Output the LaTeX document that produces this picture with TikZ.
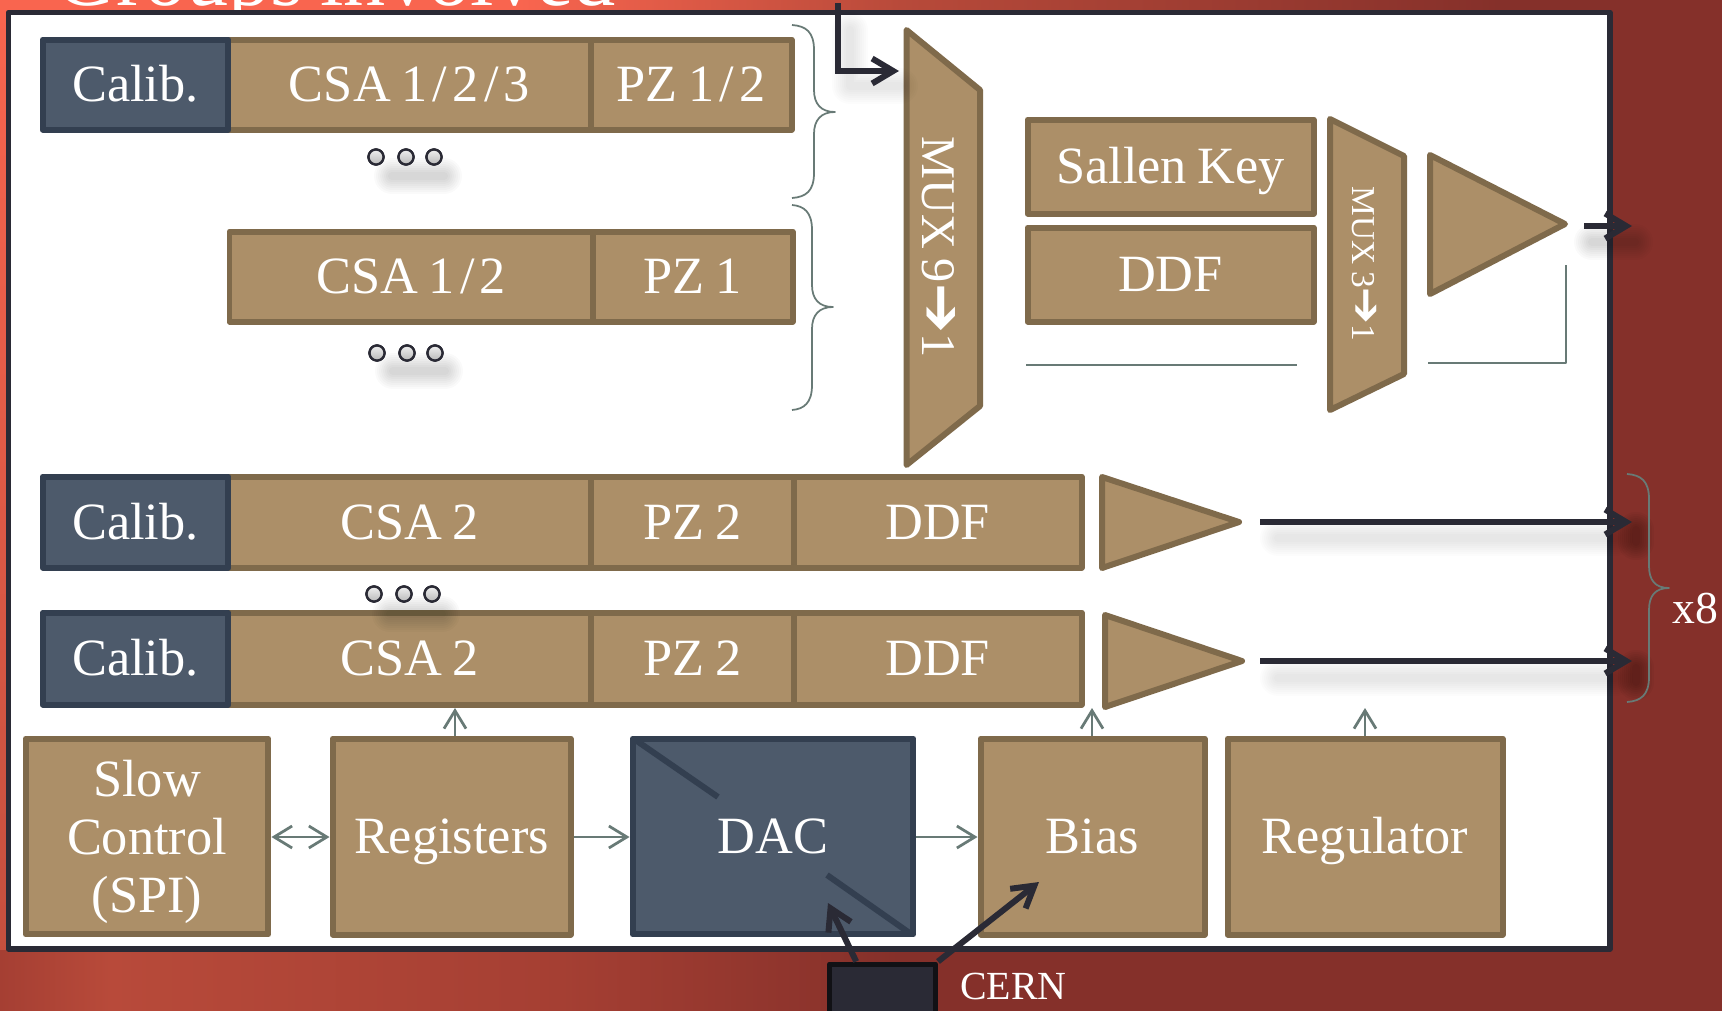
\documentclass[tikz,border=0pt]{standalone}
\usepackage{fontspec}
\setmainfont[WordSpace=0.8]{Liberation Serif}
\newfontfamily\arrowfont{DejaVu Sans}
\usetikzlibrary{arrows.meta,calc}
\definecolor{slidered}{HTML}{85302A}
\definecolor{slidesalmon}{HTML}{F9654F}
\definecolor{slidemid}{HTML}{B84A3A}
\definecolor{slidelow}{HTML}{A53F33}
\definecolor{framedark}{HTML}{2A2A35}
\definecolor{blockfill}{HTML}{AC8F68}
\definecolor{blockline}{HTML}{7F6A4B}
\definecolor{slatefill}{HTML}{4D5A6B}
\definecolor{slateline}{HTML}{333F50}
\definecolor{wiregray}{HTML}{687A76}
\newcommand{\wideslash}{\kern3pt/\kern3pt}
\newcommand{\muxarrow}[1]{{\arrowfont\bfseries\fontsize{#1}{#1}\selectfont\char"2794}}
\newcommand{\curlybrace}[6]{%
  \draw[bracecurve] (#1,#2) .. controls (#3-8,#2+1) and (#3,#2+7) .. (#3,#2+25)
    -- (#3,#5-22) .. controls (#3,#5-8) and (#4-14,#5) .. (#4,#5)
    .. controls (#4-14,#5) and (#3,#5+8) .. (#3,#5+22)
    -- (#3,#6-25) .. controls (#3,#6-7) and (#3-8,#6-1) .. (#1,#6);}
\newcommand{\softshadow}[2]{%
  \foreach \ww in {0.72,0.64,0.56,0.48,0.40,0.32,0.24,0.16}
    \draw[line width=\ww cm,line cap=round,black,opacity=#2] #1;}

\begin{document}
\begin{tikzpicture}[x=0.02cm,y=-0.02cm,line join=round,
    blockbox/.style={draw=blockline,fill=blockfill,line width=0.12cm,inner sep=0pt,text=white,font=\fontsize{29.8}{33.2}\selectfont},
    capline/.style={text height=19.7pt,text depth=0pt},
    slatebox/.style={blockbox,draw=slateline,fill=slatefill},
    blockshape/.style={draw=blockline,fill=blockfill,line width=0.12cm},
    blocklabel/.style={inner sep=0pt,text=white,font=\fontsize{#1}{#1}\selectfont},
    bracecurve/.style={draw=wiregray,line width=0.035cm},
    thinwire/.style={draw=wiregray,line width=0.035cm},
    grayarrow/.style={draw=wiregray,line width=0.055cm,-{Straight Barb[length=0.36cm,width=0.44cm]}},
    grayboth/.style={draw=wiregray,line width=0.055cm,{Straight Barb[length=0.36cm,width=0.44cm]}-{Straight Barb[length=0.36cm,width=0.44cm]}},
    darkarrow/.style={draw=framedark,line width=0.12cm,-{Straight Barb[length=0.42cm,width=0.5cm]}},
    balldot/.style={circle,draw=framedark,line width=0.045cm,minimum size=0.3cm,inner sep=0pt,top color=gray!12,bottom color=gray!55}]
\useasboundingbox (0,0) rectangle (1722,1011);
\clip (0,0) rectangle (1722,1011);
% ---------- slide background ----------
\fill[slidered] (0,0) rectangle (1722,1011);
\shade[left color=slidesalmon,right color=slidesalmon] (0,0) rectangle (520,14);
\shade[left color=slidesalmon,right color=slidemid] (520,0) rectangle (900,14);
\shade[left color=slidemid,right color=slidered] (900,0) rectangle (1500,14);
\shade[top color=slidesalmon,bottom color=slidemid!80!slidesalmon] (0,0) rectangle (8,950);
\shade[left color=slidelow,right color=slidemid] (0,950) rectangle (110,1011);
\shade[left color=slidemid,right color=slidelow] (110,950) rectangle (560,1011);
\shade[left color=slidelow,right color=slidered] (560,950) rectangle (900,1011);
\node[blocklabel=48,anchor=base west] (title) at (55,5) {Groups involved};
% ---------- white chip frame ----------
\draw[draw=framedark,fill=white,line width=0.11cm] (8.5,12.5) rectangle (1610,949);
% ---------- channel rows ----------
\foreach \nm/\xa/\ya/\xb/\yb/\txt in {
    csaa/228/39.5/591/129.5/{CSA 1\wideslash 2\wideslash 3},pza/591/39.5/791.5/129.5/{PZ 1\wideslash 2},
    csab/229.5/231.5/593/321.5/{CSA 1\wideslash 2},pzb/593/231.5/792.5/321.5/{PZ 1},
    csac/228/476.5/591/567.5/{CSA 2},pzc/591/476.5/794/567.5/{PZ 2},ddfc/794/476.5/1081.5/567.5/{DDF},
    csad/228/612.5/591/704.5/{CSA 2},pzd/591/612.5/794/704.5/{PZ 2},ddfd/794/612.5/1081.5/704.5/{DDF},
    sallen/1027.5/119.5/1313.5/213.5/{Sallen Key},ddfe/1027.5/227.5/1313.5/321.5/{DDF},
    regs/332.5/738.5/570.5/934.5/{Registers},bias/980.5/738.5/1204.5/934.5/{Bias},reg/1227.5/738.5/1502.5/934.5/{Regulator}}{
  \pgfmathsetmacro{\ww}{(\xb-\xa)*0.02}
  \pgfmathsetmacro{\hh}{(\yb-\ya)*0.02}
  \node[blockbox,capline,minimum width=\ww cm,minimum height=\hh cm] (\nm) at ({(\xa+\xb)/2},{(\ya+\yb)/2}) {\txt};}
\foreach \nm/\ya/\yb in {cala/39.5/129.5,calc/476.5/567.5,cald/612.5/704.5}{
  \pgfmathsetmacro{\hh}{(\yb-\ya)*0.02}
  \node[slatebox,capline,minimum width=3.72cm,minimum height=\hh cm] (\nm) at (135.5,{(\ya+\yb)/2}) {Calib.};}
% ---------- muxes and amplifiers ----------
\draw[blockshape] (906.5,30) -- (980,90) -- (980,406) -- (906.5,465) -- cycle;
\node[blocklabel=27.5,rotate=-90] (muxa) at (939,247) {MUX 9\muxarrow{34}1};
\draw[blockshape] (1330,119) -- (1404,156) -- (1404,374) -- (1330,410) -- cycle;
\node[blocklabel=19,rotate=-90] (muxb) at (1364,264) {MUX 3\muxarrow{25}1};
\draw[blockshape] (1430,155) -- (1565,224) -- (1430,294) -- cycle;
\draw[blockshape] (1102,477) -- (1239,522) -- (1102,568) -- cycle;
\draw[blockshape] (1105,615) -- (1242,661) -- (1105,707) -- cycle;
% ---------- bottom row ----------
\node[blockbox,minimum width=4.86cm,minimum height=3.92cm] (slow) at (147,836.5) {};
\node[blocklabel=29.8,align=center,font=\fontsize{29.8}{33.2}\selectfont] (slowtext) at (147,842) {Slow\\Control\\(SPI)};
\node[slatebox,capline,minimum width=5.62cm,minimum height=3.92cm] (dac) at (773,836.5) {DAC};
\draw[slateline,line width=0.12cm] (634,739) -- (718,797);
\draw[slateline,line width=0.12cm] (827,875) -- (911,934);
\node[draw=black!60!framedark,fill=framedark,line width=0.1cm,minimum width=2.12cm,minimum height=1.52cm] (cern) at (882.5,1002) {};
\node[blocklabel=22.7,anchor=west] (cernlab) at (960,986) {CERN};
% ---------- shadows ----------
\softshadow{(850,30) -- (850,86) -- (900,86)}{0.012}
\softshadow{(1278,538) -- (1615,538)}{0.012}
\softshadow{(1278,678) -- (1615,678)}{0.012}
\softshadow{(1592,242) -- (1635,242)}{0.018}
\softshadow{(1636,530) -- (1636,542)}{0.035}
\softshadow{(1636,668) -- (1636,682)}{0.035}
\foreach \sx/\sy in {392/176,393/371,390/614}
  \softshadow{(\sx,\sy) -- (\sx+52,\sy)}{0.018}
% ---------- dots ----------
\foreach \nm/\cx/\cy in {a/376/157,b/406/157,c/434/157,d/377/353,e/407/353,f/435/353,g/374/594,h/404/594,i/432/594}
  \node[balldot] (dot\nm) at (\cx,\cy) {};
% ---------- thin lines and braces ----------
\coordinate (filta) at (1026,365);
\coordinate (filtb) at (1297,365);
\draw[thinwire] (filta) -- (filtb);
\coordinate (fbk) at (1566,265);
\coordinate (fbkend) at (1428,363);
\draw[thinwire] (fbk) |- (fbkend);
\curlybrace{792}{25}{814}{835}{112}{198}
\curlybrace{792}{205}{812}{833}{307}{410}
\curlybrace{1627}{474}{1649}{1669}{588}{702}
\node[blocklabel=26] (times) at (1695,609) {x8};
% ---------- gray connectors ----------
\draw[grayboth] (slow.east |- 0,837) -- (regs.west |- 0,837);
\draw[grayarrow] (regs.east |- 0,837) -- (dac.west |- 0,837);
\draw[grayarrow] (dac.east |- 0,837) -- (bias.west |- 0,837);
\coordinate (regsup) at (455,708);
\coordinate (biasup) at (1092,708);
\coordinate (regup) at (1365,708);
\draw[grayarrow] (regs.north -| regsup) -- (regsup);
\draw[grayarrow] (bias.north -| biasup) -- (biasup);
\draw[grayarrow] (reg.north -| regup) -- (regup);
% ---------- dark arrows ----------
\coordinate (calin) at (838,3);
\coordinate (muxin) at (899,71);
\draw[darkarrow,line join=miter] (calin) |- (muxin);
\coordinate (outa) at (1584,226);
\coordinate (outb) at (1632,226);
\coordinate (outc) at (1260,522);
\coordinate (outd) at (1632,522);
\coordinate (oute) at (1260,661);
\coordinate (outf) at (1632,661);
\draw[darkarrow] (outa) -- (outb);
\draw[darkarrow] (outc) -- (outd);
\draw[darkarrow] (oute) -- (outf);
\coordinate (dacin) at (828,903);
\coordinate (biasin) at (1039,882);
\draw[darkarrow] (cern.123) -- (dacin);
\draw[darkarrow] (cern.north east) -- (biasin);
\end{tikzpicture}
\end{document}
